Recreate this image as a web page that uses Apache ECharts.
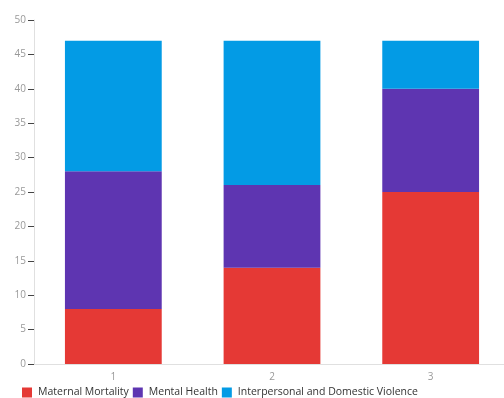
<!DOCTYPE html>
<html>
<head>
<meta charset="utf-8">
<script src="https://cdn.jsdelivr.net/npm/echarts@6/dist/echarts.min.js"></script>
<style>html,body{margin:0;padding:0;background:#fff;overflow:hidden;width:504px;height:398px;}#c{width:514px;height:398px;}</style>
</head>
<body>
<div id="c"></div>
<script>
const categories = ['1', '2', '3'];
const maternalMortality = [8, 14, 25];
const mentalHealth = [20, 12, 15];
const domesticViolence = [19, 21, 7];
const yTicks = [0, 5, 10, 15, 20, 25, 30, 35, 40, 45, 50];

const chart = echarts.init(document.getElementById('c'), null, {renderer: 'canvas'});
const font = '"Open Sans", sans-serif';
chart.setOption({
  animation: false,
  textStyle: {fontFamily: font},
  grid: {left: 34, top: 20, width: 476, bottom: 34, containLabel: false},
  legend: {
    left: 22, top: 387, padding: 0, itemWidth: 10, itemHeight: 10, itemGap: 4,
    icon: 'rect',
    textStyle: {fontFamily: font, fontSize: 10.5, color: '#333', padding: [0, 0, 0, 1]},
    data: ['Maternal Mortality', 'Mental Health', 'Interpersonal and Domestic Violence']
  },
  xAxis: {
    type: 'category', data: categories,
    axisLine: {lineStyle: {color: '#e0e0e0', width: 1}},
    axisTick: {length: 5, lineStyle: {color: '#888'}, interval: function (i) { return i !== 0; }},
    axisLabel: {color: '#999', fontSize: 10, fontFamily: font, margin: 8}
  },
  yAxis: {
    type: 'value', min: yTicks[0], max: yTicks[yTicks.length - 1], interval: 5,
    axisLine: {show: true, lineStyle: {color: '#e0e0e0', width: 1}},
    axisTick: {show: true, length: 6, lineStyle: {color: '#444'}},
    splitLine: {show: false},
    axisLabel: {color: '#999', fontSize: 10, fontFamily: font, margin: 8}
  },
  series: [
    {name: 'Maternal Mortality', type: 'bar', stack: 's', barWidth: '61%', data: maternalMortality, itemStyle: {color: '#e53935'}},
    {name: 'Mental Health', type: 'bar', stack: 's', data: mentalHealth, itemStyle: {color: '#5e35b1'}},
    {name: 'Interpersonal and Domestic Violence', type: 'bar', stack: 's', data: domesticViolence, itemStyle: {color: '#039be5'}}
  ]
});
</script>
</body>
</html>
